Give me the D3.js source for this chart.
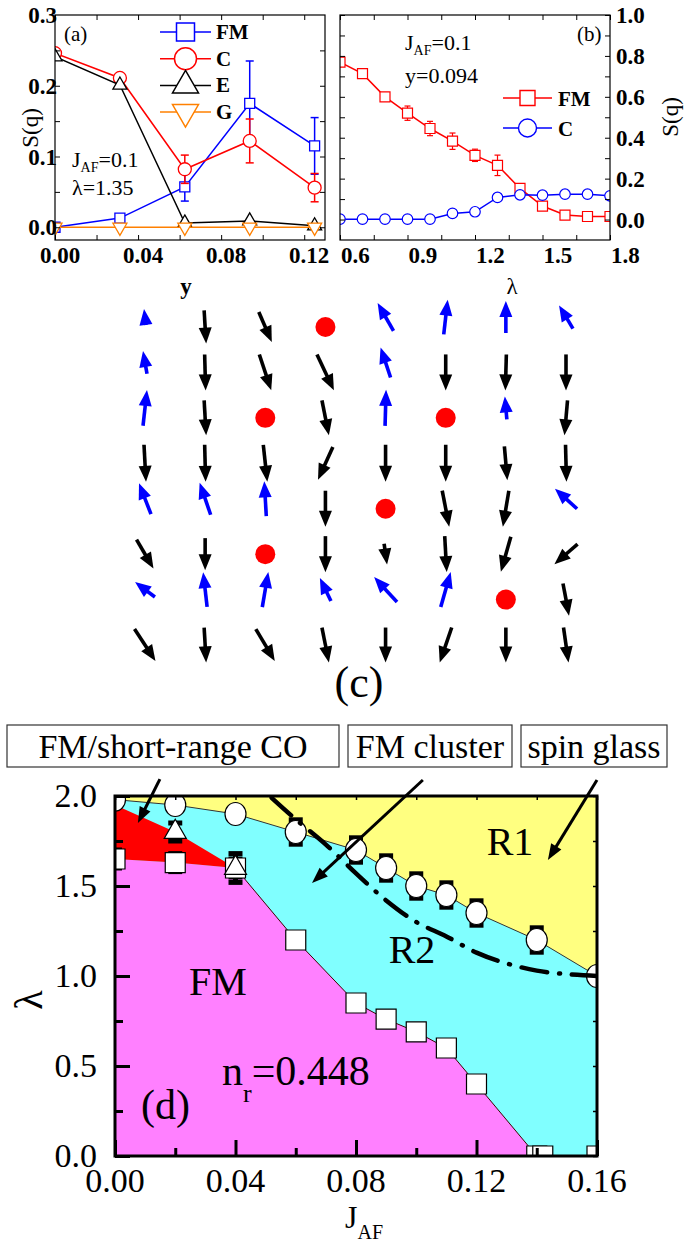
<!DOCTYPE html>
<html>
<head>
<meta charset="utf-8">
<script src="https://cdn.jsdelivr.net/npm/d3@7"></script>
<style>
body { margin: 0; background: #fff; }
text { font-family: "Liberation Serif", "Times New Roman", Times, serif; }
</style>
</head>
<body>
<svg id="fig" width="696" height="1247"></svg>
<script>
// ---------- panel (a): S(q) vs y  (J_AF=0.1, lambda=1.35)
const yDop = [0, 0.03125, 0.0625, 0.09375, 0.125];
const aFM = [0.0, 0.013, 0.057, 0.175, 0.115];
const aFMerr = [0, 0, 0.02, 0.06, 0.04];
const aC = [0.246, 0.211, 0.082, 0.122, 0.056];
const aCerr = [0, 0, 0.02, 0.031, 0.02];
const aE = [0.241, 0.201, 0.006, 0.009, 0.002];
const aG = [0, 0, 0, 0, 0];
const aXTicks = [0, 0.04, 0.08, 0.12];
const aYTicks = [0, 0.1, 0.2, 0.3];

// ---------- panel (b): S(q) vs lambda  (J_AF=0.1, y=0.094)
const lam = [0.6, 0.7, 0.8, 0.9, 1.0, 1.1, 1.2, 1.3, 1.4, 1.5, 1.6, 1.7, 1.8];
const bFM = [0.77, 0.713, 0.60, 0.52, 0.445, 0.383, 0.314, 0.265, 0.152, 0.066, 0.022, 0.015, 0.015];
const bFMerr = [0, 0, 0, 0.035, 0.035, 0.04, 0.03, 0.05, 0.01, 0, 0, 0, 0];
const bC = [0.002, 0.002, 0.002, 0.002, 0.002, 0.03, 0.038, 0.108, 0.121, 0.119, 0.124, 0.124, 0.116];
const bXTicks = [0.6, 0.9, 1.2, 1.5, 1.8];
const bYTicks = [0, 0.2, 0.4, 0.6, 0.8, 1.0];

// ---------- panel (c): spin snapshot, angle (deg, clockwise from up) and projected length; null = hole
const spinAng = [
  [-7, 176.5, 156.6, null, -29.7, 6.5, 0, -31],
  [-10, 178.4, 161.6, 154.7, -18.4, 180, 181.6, 180],
  [6.3, 176.7, null, 168.7, 1.6, null, -5, 185],
  [176.9, 178.5, 173.8, 204.4, 180, 180, 175, 178.5],
  [-21.2, -19, -3.3, 180, null, 169, 189.5, -47.7],
  [149.6, 180, null, 180, 171.9, 176.8, 195.9, 229],
  [-53, -6.5, 9.7, -25.6, -42.6, 15.9, null, 169.4],
  [146.7, 176.7, 149.3, 168.7, 180, 198.9, 180, 171.9]
];
const spinLen = [
  [0.45, 0.92, 0.91, null, 0.89, 0.97, 0.89, 0.75],
  [0.64, 1.0, 1.05, 1.1, 0.88, 1.0, 1.0, 1.0],
  [1.0, 0.97, null, 0.99, 1.0, null, 0.64, 0.97],
  [1.03, 1.03, 1.03, 1.0, 1.03, 1.03, 0.94, 1.03],
  [0.92, 0.94, 0.97, 1.0, null, 1.02, 1.01, 0.83],
  [0.93, 0.89, null, 1.0, 0.58, 1.0, 1.01, 0.85],
  [0.69, 0.97, 0.99, 0.71, 0.94, 1.01, null, 0.91],
  [1.06, 0.97, 1.03, 0.99, 0.97, 1.03, 0.97, 0.98]
];

// ---------- panel (d): phase diagram lambda vs J_AF
const jSq = [0, 0.02, 0.04, 0.06, 0.08, 0.09, 0.10, 0.11, 0.12, 0.14, 0.142, 0.16];
const lamSq = [1.65, 1.63, 1.60, 1.20, 0.85, 0.76, 0.69, 0.60, 0.40, 0.0, 0.0, 0.0];
const sqErr = [0.05, 0.05, 0.05, 0, 0, 0, 0, 0, 0, 0, 0, 0];
const jTri = [0.02, 0.04];
const lamTri = [1.80, 1.60];
const triErr = [0.05, 0.08];
const jCirc = [0, 0.02, 0.04, 0.06, 0.08, 0.09, 0.10, 0.11, 0.12, 0.14, 0.16];
const lamCirc = [1.98, 1.95, 1.90, 1.80, 1.70, 1.60, 1.50, 1.45, 1.35, 1.20, 1.00];
const circErr = [0, 0, 0, 0.065, 0.065, 0.065, 0.065, 0.065, 0.065, 0.065, 0];
const jRed = [0, 0.02, 0.04];
const redTop = [1.95, 1.80, 1.60];
const jDash = [0.052, 0.06, 0.07, 0.08, 0.09, 0.10, 0.11, 0.12, 0.13, 0.14, 0.15, 0.16];
const lamDash = [1.99, 1.87, 1.73, 1.57, 1.42, 1.30, 1.22, 1.13, 1.07, 1.03, 1.01, 1.0];
const dXTicks = [0, 0.04, 0.08, 0.12, 0.16];
const dYTicks = [0, 0.5, 1.0, 1.5, 2.0];

const svg = d3.select('#fig');
const defs = svg.append('defs');

function clip(id, x0, y0, x1, y1) {
  defs.append('clipPath').attr('id', id).append('rect')
    .attr('x', x0).attr('y', y0).attr('width', x1 - x0).attr('height', y1 - y0);
  return `url(#${id})`;
}

function ticks(g, x, y, side, vals, len, w) {
  const ax = { bottom: d3.axisBottom, top: d3.axisTop, left: d3.axisLeft, right: d3.axisRight }[side];
  const scale = (side === 'bottom' || side === 'top') ? x : y;
  const pos = {
    bottom: `translate(0,${y.range()[0]})`, top: `translate(0,${y.range()[1]})`,
    left: `translate(${x.range()[0]},0)`, right: `translate(${x.range()[1]},0)`
  }[side];
  const a = g.append('g').attr('transform', pos)
    .call(ax(scale).tickValues(vals).tickSize(-len).tickFormat(''));
  a.select('.domain').remove();
  a.selectAll('line').attr('stroke', '#000').attr('stroke-width', w);
}

function sym(type, size) {
  if (type === 'square') return d3.symbol(d3.symbolSquare, size * size)();
  if (type === 'circle') return d3.symbol(d3.symbolCircle, Math.PI * size * size / 4)();
  return d3.symbol(d3.symbolTriangle, Math.sqrt(3) / 4 * size * size)();
}

function marker(g, type, size, cx, cy, color, sw) {
  g.append('path').attr('d', sym(type, size))
    .attr('transform', `translate(${cx},${cy})` + (type === 'down' ? ' rotate(180)' : ''))
    .attr('fill', '#fff').attr('stroke', color).attr('stroke-width', sw);
}

function errbar(g, cx, yTop, yBot, cap, color, sw) {
  g.append('line').attr('x1', cx).attr('x2', cx).attr('y1', yTop).attr('y2', yBot)
    .attr('stroke', color).attr('stroke-width', sw);
  [yTop, yBot].forEach(yy => g.append('line').attr('x1', cx - cap / 2).attr('x2', cx + cap / 2)
    .attr('y1', yy).attr('y2', yy).attr('stroke', color).attr('stroke-width', sw));
}

function txt(g, x, y, s, size, opts = {}) {
  return g.append('text').attr('x', x).attr('y', y).text(s)
    .attr('font-size', size).attr('font-weight', opts.bold ? 'bold' : 'normal')
    .attr('text-anchor', opts.anchor || 'start');
}

function subText(g, x, y, main, sub, rest, fs, sfs, dy) {
  const t = g.append('text').attr('x', x).attr('y', y).attr('font-size', fs);
  t.append('tspan').text(main);
  t.append('tspan').attr('font-size', sfs).attr('dy', dy).text(sub);
  if (rest) t.append('tspan').attr('dy', -dy).text(rest);
  return t;
}

function arrow(g, x1, y1, x2, y2, color, sw, hl, hw) {
  const L = Math.hypot(x2 - x1, y2 - y1);
  const ux = (x2 - x1) / L, uy = (y2 - y1) / L;
  const bx = x2 - ux * hl, by = y2 - uy * hl;
  g.append('line').attr('x1', x1).attr('y1', y1).attr('x2', bx + ux * 2).attr('y2', by + uy * 2)
    .attr('stroke', color).attr('stroke-width', sw);
  g.append('path')
    .attr('d', `M${x2},${y2}L${bx - uy * hw},${by + ux * hw}L${bx + uy * hw},${by - ux * hw}Z`)
    .attr('fill', color);
}

// ================= panel (a)
const xa = d3.scaleLinear().domain([0, 0.13]).range([55, 325]);
const ya = d3.scaleLinear().domain([-0.018, 0.3]).range([240, 15]);
const ga = svg.append('g');
const pa = ga.append('g').attr('clip-path', clip('ca', 55, 15, 325, 240));

const seriesA = [
  { v: aFM, e: aFMerr, color: '#0000ff', type: 'square', size: 10 },
  { v: aC, e: aCerr, color: '#ff0000', type: 'circle', size: 13 },
  { v: aE, e: null, color: '#000000', type: 'up', size: 14 },
  { v: aG, e: null, color: '#ff8000', type: 'down', size: 14 }
];
seriesA.forEach(s => {
  pa.append('path').datum(d3.zip(yDop, s.v))
    .attr('d', d3.line().x(d => xa(d[0])).y(d => ya(d[1])))
    .attr('fill', 'none').attr('stroke', s.color).attr('stroke-width', 1.5);
  if (s.e) s.v.forEach((v, i) => {
    if (s.e[i] > 0) errbar(pa, xa(yDop[i]), ya(v + s.e[i]), ya(v - s.e[i]), 8, s.color, 1.5);
  });
  s.v.forEach((v, i) => marker(pa, s.type, s.size, xa(yDop[i]), ya(v), s.color, 1.3));
});

ga.append('rect').attr('x', 55).attr('y', 15).attr('width', 270).attr('height', 225)
  .attr('fill', 'none').attr('stroke', '#000').attr('stroke-width', 1.2);
const aXAll = d3.range(0, 0.121, 0.02);
ticks(ga, xa, ya, 'bottom', aXAll, 5, 1);
ticks(ga, xa, ya, 'top', aXAll, 5, 1);
const aYAll = [0, 0.05, 0.1, 0.15, 0.2, 0.25];
ticks(ga, xa, ya, 'left', aYAll, 5, 1);
ticks(ga, xa, ya, 'right', aYAll, 5, 1);
aXTicks.forEach(v => txt(ga, xa(v) + 5, 263, d3.format('.2f')(v), 23, { bold: true, anchor: 'middle' }));
aYTicks.forEach(v => txt(ga, 57, ya(v) + 8, d3.format('.1f')(v), 23, { bold: true, anchor: 'end' }));
txt(ga, 0, 0, 'S(q)', 23, { anchor: 'middle' }).attr('transform', 'translate(38,128) rotate(-90)');
txt(ga, 186, 294, 'y', 23, { bold: true, anchor: 'middle' });
txt(ga, 64, 41, '(a)', 21);
subText(ga, 72, 167, 'J', 'AF', '=0.1', 22, 14, 5);
txt(ga, 72, 195, 'λ=1.35', 22);

const legA = ['FM', 'C', 'E', 'G'];
legA.forEach((name, i) => {
  const s = seriesA[i];
  const cy = 32 + i * 26.7;
  ga.append('line').attr('x1', 160).attr('x2', 211).attr('y1', cy).attr('y2', cy)
    .attr('stroke', s.color).attr('stroke-width', 1.5);
  const big = { square: 18, circle: 22, up: 26, down: 26 }[s.type];
  marker(ga, s.type, big, 185.5, cy, s.color, 1.5);
  txt(ga, 216, cy + 7, name, 21, { bold: true });
});

// ================= panel (b)
const xb = d3.scaleLinear().domain([0.6, 1.8]).range([340, 610]);
const yb = d3.scaleLinear().domain([-0.1, 1.0]).range([240, 15]);
const gb = svg.append('g');
const pb = gb.append('g').attr('clip-path', clip('cb', 340, 15, 610, 240));

pb.append('path').datum(d3.zip(lam, bFM))
  .attr('d', d3.line().x(d => xb(d[0])).y(d => yb(d[1])))
  .attr('fill', 'none').attr('stroke', '#ff0000').attr('stroke-width', 1.5);
bFM.forEach((v, i) => {
  if (bFMerr[i] > 0) errbar(pb, xb(lam[i]), yb(v + bFMerr[i]), yb(v - bFMerr[i]), 6, '#ff0000', 1.2);
});
bFM.forEach((v, i) => marker(pb, 'square', 10, xb(lam[i]), yb(v), '#ff0000', 1.2));
pb.append('path').datum(d3.zip(lam, bC))
  .attr('d', d3.line().x(d => xb(d[0])).y(d => yb(d[1])))
  .attr('fill', 'none').attr('stroke', '#0000ff').attr('stroke-width', 1.5);
bC.forEach((v, i) => marker(pb, 'circle', 10.5, xb(lam[i]), yb(v), '#0000ff', 1.2));

gb.append('rect').attr('x', 340).attr('y', 15).attr('width', 270).attr('height', 225)
  .attr('fill', 'none').attr('stroke', '#000').attr('stroke-width', 1.2);
const bXAll = d3.range(0.6, 1.81, 0.15);
ticks(gb, xb, yb, 'bottom', bXAll, 5, 1);
ticks(gb, xb, yb, 'top', bXAll, 5, 1);
const bYAll = d3.range(0, 1.01, 0.1);
ticks(gb, xb, yb, 'left', bYAll, 5, 1);
ticks(gb, xb, yb, 'right', bYAll, 5, 1);
bXTicks.forEach(v => txt(gb, xb(v) + 1, 263, d3.format('.1f')(v), 23, { bold: true }));
bYTicks.forEach(v => txt(gb, 616, yb(v) + 8, d3.format('.1f')(v), 23, { bold: true }));
txt(gb, 0, 0, 'S(q)', 23, { anchor: 'middle' }).attr('transform', 'translate(678,117) rotate(-90)');
txt(gb, 512, 294, 'λ', 23, { anchor: 'middle' });
txt(gb, 577, 41, '(b)', 21);
subText(gb, 405, 50, 'J', 'AF', '=0.1', 22, 14, 5);
txt(gb, 405, 83, 'y=0.094', 22);

[['FM', '#ff0000', 'square', 15], ['C', '#0000ff', 'circle', 18]].forEach((l, i) => {
  const cy = 98 + i * 30;
  gb.append('line').attr('x1', 503).attr('x2', 552).attr('y1', cy).attr('y2', cy)
    .attr('stroke', l[1]).attr('stroke-width', 1.5);
  marker(gb, l[2], l[3], 527.5, cy, l[1], 1.4);
  txt(gb, 558, cy + 8, l[0], 21, { bold: true });
});

// ================= panel (c)
const xc = d3.scaleLinear().domain([0, 7]).range([145, 566]);
const yc = d3.scaleLinear().domain([0, 7]).range([327, 645]);
const gc = svg.append('g');
spinAng.forEach((row, r) => row.forEach((ang, c) => {
  if (ang === null) {
    gc.append('circle').attr('cx', xc(c)).attr('cy', yc(r)).attr('r', 10).attr('fill', '#ff0000');
    return;
  }
  const up = Math.abs(ang) < 90;
  const color = up ? '#0000ff' : '#000000';
  const a = ang * Math.PI / 180;
  const ux = Math.sin(a), uy = -Math.cos(a);
  const L = spinLen[r][c] * 36;
  const cx = xc(c), cy = yc(r) - (up ? 10 : 0);
  arrow(gc, cx - ux * L / 2, cy - uy * L / 2, cx + ux * L / 2, cy + uy * L / 2, color, 3.6, 16, 6.5);
}));
txt(gc, 359, 697, '(c)', 44, { anchor: 'middle' });

// ================= panel (d)
const xd = d3.scaleLinear().domain([0, 0.16]).range([115, 597]);
const yd = d3.scaleLinear().domain([0, 2.0]).range([1156, 796]);
const gd = svg.append('g');
const pd = gd.append('g').attr('clip-path', clip('cd', 115, 796, 597, 1156));

const areaD = d3.area().x(d => xd(d[0])).y0(yd(0)).y1(d => yd(d[1]));
const lineD = d3.line().x(d => xd(d[0])).y(d => yd(d[1]));
pd.append('rect').attr('x', 115).attr('y', 796).attr('width', 482).attr('height', 360).attr('fill', '#ffff80');
pd.append('path').datum(d3.zip(jCirc, lamCirc)).attr('d', areaD).attr('fill', '#80ffff');
pd.append('path').datum(d3.zip(jSq.slice(0, 10), lamSq.slice(0, 10))).attr('d', areaD).attr('fill', '#ff80ff');
pd.append('path').datum(d3.zip(jRed, lamSq.slice(0, 3), redTop))
  .attr('d', d3.area().x(d => xd(d[0])).y0(d => yd(d[1])).y1(d => yd(d[2])))
  .attr('fill', '#ff0000');
pd.append('path').datum(d3.zip(jCirc, lamCirc)).attr('d', lineD)
  .attr('fill', 'none').attr('stroke', '#333').attr('stroke-width', 1);
pd.append('path').datum(d3.zip(jSq.slice(2, 10), lamSq.slice(2, 10))).attr('d', lineD)
  .attr('fill', 'none').attr('stroke', '#400000').attr('stroke-width', 1);

// error bars then markers
lamSq.forEach((v, i) => { if (sqErr[i] > 0) errbar(pd, xd(jSq[i]), yd(v + sqErr[i]), yd(v - sqErr[i]), 14, '#000', 5); });
lamTri.forEach((v, i) => errbar(pd, xd(jTri[i]), yd(v + triErr[i]), yd(v - triErr[i]), 14, '#000', 5));
lamCirc.forEach((v, i) => { if (circErr[i] > 0) errbar(pd, xd(jCirc[i]), yd(v + circErr[i]), yd(v - circErr[i]), 14, '#000', 6); });
lamSq.forEach((v, i) => marker(pd, 'square', 20, xd(jSq[i]), yd(v), '#000', 1.2));
lamTri.forEach((v, i) => marker(pd, 'up', 22, xd(jTri[i]), yd(v), '#000', 1.2));
lamCirc.forEach((v, i) => pd.append('ellipse').attr('cx', xd(jCirc[i])).attr('cy', yd(v))
  .attr('rx', 10.5).attr('ry', 11.5).attr('fill', '#fff').attr('stroke', '#000').attr('stroke-width', 1.2));

pd.append('path').datum(d3.zip(jDash, lamDash))
  .attr('d', d3.line().curve(d3.curveCatmullRom).x(d => xd(d[0])).y(d => yd(d[1])))
  .attr('fill', 'none').attr('stroke', '#000').attr('stroke-width', 4.5)
  .attr('stroke-linecap', 'round').attr('stroke-dasharray', '26 12 1 12');

txt(gd, 218, 995, 'FM', 40, { anchor: 'middle' });
txt(gd, 510, 855, 'R1', 40, { anchor: 'middle' });
txt(gd, 412, 963, 'R2', 40, { anchor: 'middle' });
subText(gd, 222, 1085, 'n', 'r', '=0.448', 42, 26, 17);
txt(gd, 141, 1119, '(d)', 42);

// frame and ticks
gd.append('rect').attr('x', 115).attr('y', 796).attr('width', 482).attr('height', 360)
  .attr('fill', 'none').attr('stroke', '#000').attr('stroke-width', 3);
ticks(gd, xd, yd, 'bottom', dXTicks, 16, 3);
ticks(gd, xd, yd, 'bottom', [0.02, 0.06, 0.10, 0.14], 8, 3);
ticks(gd, xd, yd, 'left', dYTicks, 15, 3);
ticks(gd, xd, yd, 'left', [0.25, 0.75, 1.25, 1.75], 8, 3);
ticks(gd, xd, yd, 'right', d3.range(0, 2.01, 0.25), 4, 1.5);
ticks(gd, xd, yd, 'top', d3.range(0, 0.161, 0.02), 4, 1.5);
dXTicks.forEach(v => txt(gd, xd(v), 1192, d3.format('.2f')(v), 34, { anchor: 'middle' }));
dYTicks.forEach(v => txt(gd, 97, yd(v) + 11, d3.format('.1f')(v), 34, { anchor: 'end' }));
txt(gd, 0, 0, 'λ', 40, { anchor: 'middle' }).attr('transform', 'translate(42,1000) rotate(-90)');
subText(gd, 345, 1228, 'J', 'AF', '', 32, 20, 11);

// annotation boxes with arrows into the diagram
const notes = [
  { text: 'FM/short-range CO', x0: 7, x1: 339, from: [0.0149, 2.094], to: [0.0076, 1.85] },
  { text: 'FM cluster', x0: 348, x1: 512, from: [0.1022, 2.089], to: [0.0654, 1.517] },
  { text: 'spin glass', x0: 521, x1: 667, from: [0.16, 2.089], to: [0.1437, 1.644] }
];
notes.forEach(n => {
  gd.append('rect').attr('x', n.x0).attr('y', 725).attr('width', n.x1 - n.x0).attr('height', 42)
    .attr('fill', '#fff').attr('stroke', '#333').attr('stroke-width', 1.2);
  txt(gd, (n.x0 + n.x1) / 2, 758, n.text, 34, { anchor: 'middle' });
  arrow(gd, xd(n.from[0]), yd(n.from[1]), xd(n.to[0]), yd(n.to[1]), '#000', 3, 16, 6);
});
</script>
</body>
</html>
